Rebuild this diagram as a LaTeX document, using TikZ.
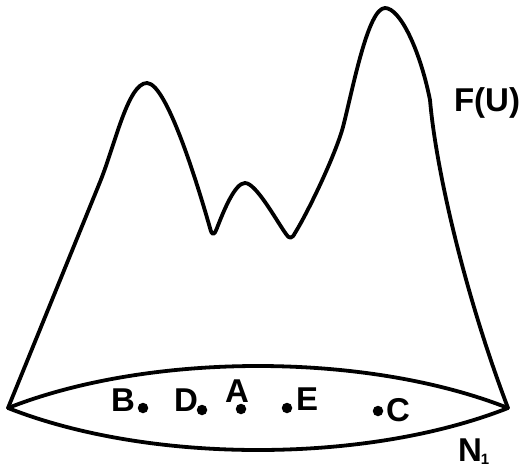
\documentclass[tikz,border=0pt]{standalone}
\usepackage{fontspec}
\setmainfont{Liberation Sans}
\begin{document}
\begin{tikzpicture}[x=1pt,y=-1pt,
  outline/.style={line width=3.8pt,line join=round,line cap=round},
  pt/.style={circle,fill=black,inner sep=0pt,minimum size=10.5pt},
  lbl/.style={font=\fontsize{33}{33}\selectfont\bfseries,inner sep=0pt}]
\useasboundingbox (0,0) rectangle (524,474);
% key points
\coordinate (L) at (8,408);
\coordinate (R) at (508,408);
% mountain outline
\draw[outline] (L) -- (100,182)
  .. controls (115,145) and (128,83) .. (147,83)
  .. controls (168,83) and (202,200) .. (210,228)
  .. controls (212,236) and (214,236) .. (217,228)
  .. controls (224,210) and (235,183) .. (245,183)
  .. controls (256,183) and (276,220) .. (286,234)
  .. controls (289,239) and (292,239) .. (295,233)
  .. controls (308,212) and (335,156) .. (343,127)
  .. controls (353,88) and (368,8) .. (385,8)
  .. controls (400,8) and (420,50) .. (430,100)
  .. controls (436,170) and (465,295) .. (R);
% base lens
\draw[outline] (L) .. controls (150,352) and (366,352) .. (R)
  .. controls (366,464) and (150,464) .. (L);
% points
\node[pt] (b) at (143,408) {};
\node[pt] (d) at (202,410) {};
\node[pt] (a) at (241,409) {};
\node[pt] (e) at (287,408) {};
\node[pt] (c) at (378,411) {};
% labels
\node[lbl] (lb) at (123,400) {B};
\node[lbl] (ld) at (186,400) {D};
\node[lbl] (la) at (237,391) {A};
\node[lbl] (le) at (307,399) {E};
\node[lbl] (lc) at (398,410) {C};
\node[lbl] (fu) at (487,103) {F(U)};
\node[lbl] (n1) at (470,450) {N};
\node[font=\fontsize{15}{15}\selectfont\bfseries,inner sep=0pt] (n1s) at (485,459) {1};
\end{tikzpicture}
\end{document}
